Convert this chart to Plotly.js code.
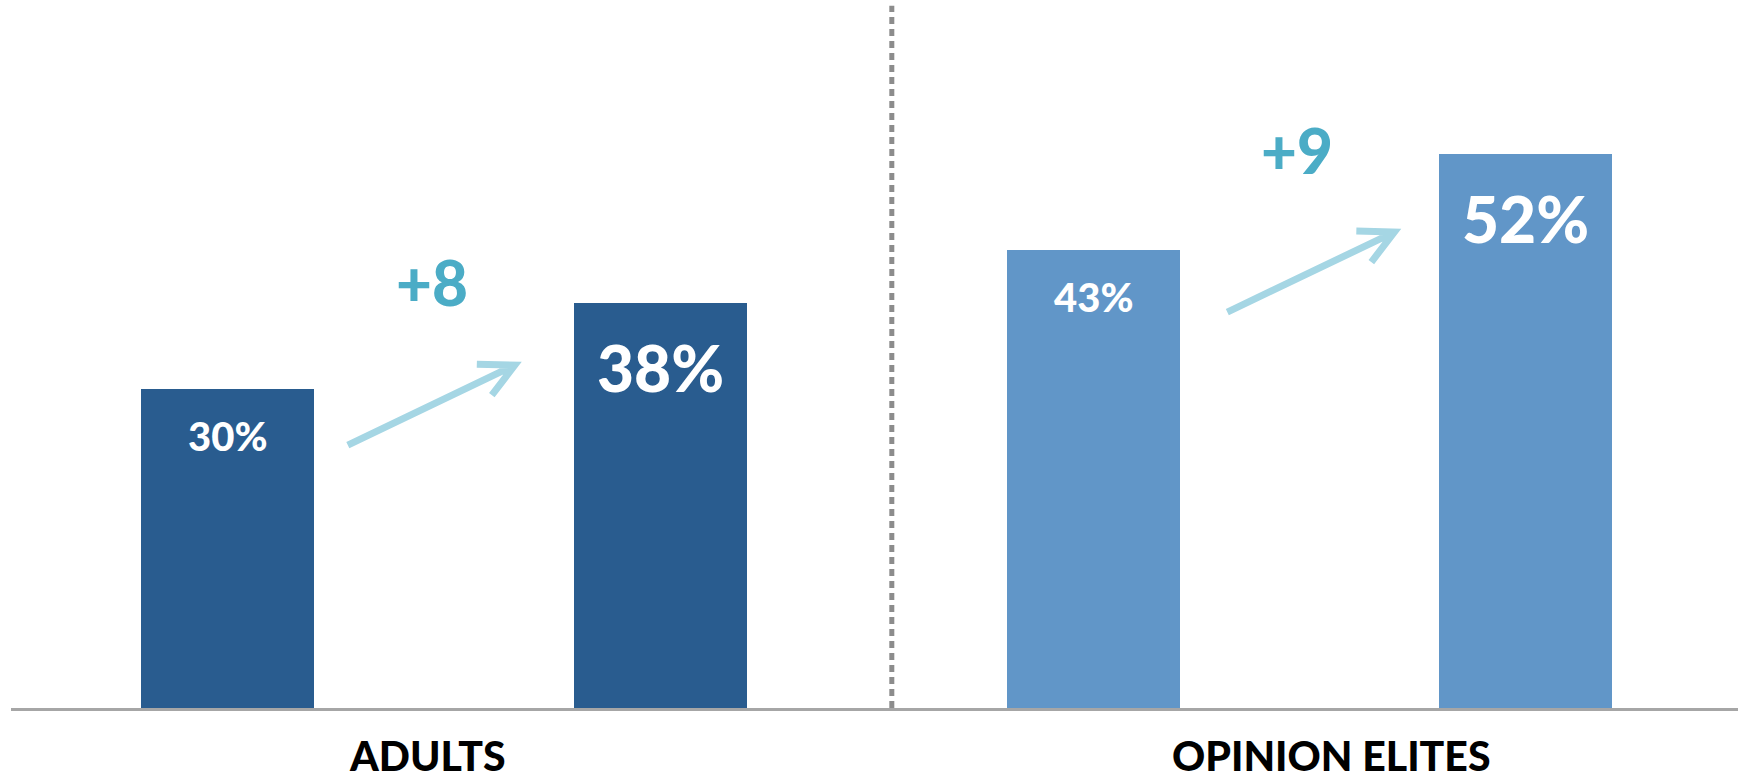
<!DOCTYPE html>
<html>
<head>
<meta charset="utf-8">
<script src="https://cdn.plot.ly/plotly-3.0.1.min.js"></script>
<style>html,body{margin:0;padding:0;background:#fff;}#chart{width:1738px;height:780px;}</style>
</head>
<body>
<div id="chart"></div>
<script>
// Data
const groups = ['ADULTS', 'OPINION ELITES'];
const adultsValues = [30, 38];
const elitesValues = [43, 52];
const groupColors = ['#295C8F', '#6196C8'];

const FONT = 'Lato, "Open Sans", sans-serif';
const allValues = adultsValues.concat(elitesValues);
const xs = [0, 1, 2, 3];

const traces = [
  {type: 'bar', x: [0, 1], y: adultsValues, width: 0.4, marker: {color: groupColors[0]}, hoverinfo: 'none', showlegend: false},
  {type: 'bar', x: [2, 3], y: elitesValues, width: 0.4, marker: {color: groupColors[1]}, hoverinfo: 'none', showlegend: false}
];

const annotations = [];
// value labels inside the bars
allValues.forEach((v, i) => {
  const big = i % 2 === 1;
  annotations.push({
    x: xs[i], y: v, xref: 'x', yref: 'y', text: v + '%', showarrow: false,
    yanchor: 'middle', yshift: big ? -64 : -47,
    font: {family: FONT, size: big ? 64 : 40, color: '#ffffff', weight: 900}
  });
});
// change labels
const pairs = [adultsValues, elitesValues];
const deltaAnchors = [{x: 0.473, y: 40.0}, {x: 2.47, y: 52.4}];
pairs.forEach((p, g) => {
  annotations.push({
    x: deltaAnchors[g].x, y: deltaAnchors[g].y, xref: 'x', yref: 'y',
    text: '+' + (p[1] - p[0]), showarrow: false, yanchor: 'middle',
    font: {family: FONT, size: 62, color: '#4BACC6', weight: 900}
  });
});
// group labels
const groupX = [0.463, 2.55];
groups.forEach((gname, g) => {
  annotations.push({
    x: groupX[g], y: 0, xref: 'x', yref: 'paper', text: gname, showarrow: false,
    yanchor: 'middle', yshift: -47,
    font: {family: FONT, size: 41, color: '#000000', weight: 900}
  });
});

// arrows (decorative): anchored at tip, pixel offsets
const arrowTips = [{x: 0.664, y: 32.2}, {x: 2.696, y: 44.7}];
const arrowPath = 'M -167 -80 L 0 0 M -38 1 L 0 0 L -23 -30';
const shapes = arrowTips.map(t => ({
  type: 'path', xref: 'x', yref: 'y', xsizemode: 'pixel', ysizemode: 'pixel',
  xanchor: t.x, yanchor: t.y, path: arrowPath,
  line: {color: '#A5D6E4', width: 7}
}));
// divider
shapes.push({
  type: 'line', xref: 'x', yref: 'paper', x0: 1.535, x1: 1.535, y0: 0, y1: 0.992,
  line: {color: '#8C8C8C', width: 5, dash: '7px,5px'}
});

const layout = {
  width: 1738, height: 780,
  margin: {l: 11, r: 0, t: 0, b: 72},
  paper_bgcolor: '#ffffff', plot_bgcolor: '#ffffff',
  xaxis: {range: [-0.5, 3.49], showgrid: false, zeroline: false, showticklabels: false, ticks: '',
          showline: true, linecolor: '#A6A6A6', linewidth: 3, fixedrange: true},
  yaxis: {range: [0, 66.5], showgrid: false, zeroline: false, showticklabels: false, ticks: '', showline: false, fixedrange: true},
  annotations: annotations,
  shapes: shapes,
  bargap: 0
};

Plotly.newPlot('chart', traces, layout, {displayModeBar: false, staticPlot: true});
</script>
</body>
</html>
